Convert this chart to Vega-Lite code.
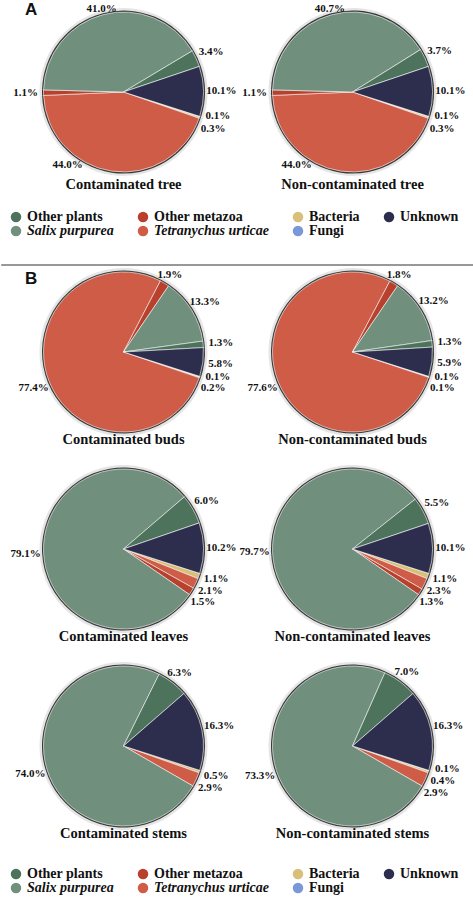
{
  "$schema": "https://vega.github.io/schema/vega-lite/v6.json",
  "padding": 0,
  "background": "white",
  "config": {
    "view": {"stroke": null},
    "font": "Liberation Serif",
    "legend": {"labelFont": "Liberation Serif", "labelFontWeight": "bold", "labelFontSize": 14}
  },
  "datasets": {
    "pies": [
      {"section": "A", "sample": "Contaminated tree", "category": "Fungi", "value": 0.1},
      {"section": "A", "sample": "Contaminated tree", "category": "Bacteria", "value": 0.3},
      {"section": "A", "sample": "Contaminated tree", "category": "Tetranychus urticae", "value": 44.0},
      {"section": "A", "sample": "Contaminated tree", "category": "Other metazoa", "value": 1.1},
      {"section": "A", "sample": "Contaminated tree", "category": "Salix purpurea", "value": 41.0},
      {"section": "A", "sample": "Contaminated tree", "category": "Other plants", "value": 3.4},
      {"section": "A", "sample": "Contaminated tree", "category": "Unknown", "value": 10.1},
      {"section": "A", "sample": "Non-contaminated tree", "category": "Fungi", "value": 0.1},
      {"section": "A", "sample": "Non-contaminated tree", "category": "Bacteria", "value": 0.3},
      {"section": "A", "sample": "Non-contaminated tree", "category": "Tetranychus urticae", "value": 44.0},
      {"section": "A", "sample": "Non-contaminated tree", "category": "Other metazoa", "value": 1.1},
      {"section": "A", "sample": "Non-contaminated tree", "category": "Salix purpurea", "value": 40.7},
      {"section": "A", "sample": "Non-contaminated tree", "category": "Other plants", "value": 3.7},
      {"section": "A", "sample": "Non-contaminated tree", "category": "Unknown", "value": 10.1},
      {"section": "B", "sample": "Contaminated buds", "category": "Fungi", "value": 0.1},
      {"section": "B", "sample": "Contaminated buds", "category": "Bacteria", "value": 0.2},
      {"section": "B", "sample": "Contaminated buds", "category": "Tetranychus urticae", "value": 77.4},
      {"section": "B", "sample": "Contaminated buds", "category": "Other metazoa", "value": 1.9},
      {"section": "B", "sample": "Contaminated buds", "category": "Salix purpurea", "value": 13.3},
      {"section": "B", "sample": "Contaminated buds", "category": "Other plants", "value": 1.3},
      {"section": "B", "sample": "Contaminated buds", "category": "Unknown", "value": 5.8},
      {"section": "B", "sample": "Non-contaminated buds", "category": "Fungi", "value": 0.1},
      {"section": "B", "sample": "Non-contaminated buds", "category": "Bacteria", "value": 0.1},
      {"section": "B", "sample": "Non-contaminated buds", "category": "Tetranychus urticae", "value": 77.6},
      {"section": "B", "sample": "Non-contaminated buds", "category": "Other metazoa", "value": 1.8},
      {"section": "B", "sample": "Non-contaminated buds", "category": "Salix purpurea", "value": 13.2},
      {"section": "B", "sample": "Non-contaminated buds", "category": "Other plants", "value": 1.3},
      {"section": "B", "sample": "Non-contaminated buds", "category": "Unknown", "value": 5.9},
      {"section": "B", "sample": "Contaminated leaves", "category": "Bacteria", "value": 1.1},
      {"section": "B", "sample": "Contaminated leaves", "category": "Tetranychus urticae", "value": 2.1},
      {"section": "B", "sample": "Contaminated leaves", "category": "Other metazoa", "value": 1.5},
      {"section": "B", "sample": "Contaminated leaves", "category": "Salix purpurea", "value": 79.1},
      {"section": "B", "sample": "Contaminated leaves", "category": "Other plants", "value": 6.0},
      {"section": "B", "sample": "Contaminated leaves", "category": "Unknown", "value": 10.2},
      {"section": "B", "sample": "Non-contaminated leaves", "category": "Bacteria", "value": 1.1},
      {"section": "B", "sample": "Non-contaminated leaves", "category": "Tetranychus urticae", "value": 2.3},
      {"section": "B", "sample": "Non-contaminated leaves", "category": "Other metazoa", "value": 1.3},
      {"section": "B", "sample": "Non-contaminated leaves", "category": "Salix purpurea", "value": 79.7},
      {"section": "B", "sample": "Non-contaminated leaves", "category": "Other plants", "value": 5.5},
      {"section": "B", "sample": "Non-contaminated leaves", "category": "Unknown", "value": 10.1},
      {"section": "B", "sample": "Contaminated stems", "category": "Bacteria", "value": 0.5},
      {"section": "B", "sample": "Contaminated stems", "category": "Tetranychus urticae", "value": 2.9},
      {"section": "B", "sample": "Contaminated stems", "category": "Salix purpurea", "value": 74.0},
      {"section": "B", "sample": "Contaminated stems", "category": "Other plants", "value": 6.3},
      {"section": "B", "sample": "Contaminated stems", "category": "Unknown", "value": 16.3},
      {"section": "B", "sample": "Non-contaminated stems", "category": "Fungi", "value": 0.1},
      {"section": "B", "sample": "Non-contaminated stems", "category": "Bacteria", "value": 0.4},
      {"section": "B", "sample": "Non-contaminated stems", "category": "Tetranychus urticae", "value": 2.9},
      {"section": "B", "sample": "Non-contaminated stems", "category": "Salix purpurea", "value": 73.3},
      {"section": "B", "sample": "Non-contaminated stems", "category": "Other plants", "value": 7.0},
      {"section": "B", "sample": "Non-contaminated stems", "category": "Unknown", "value": 16.3}
    ]
  },
  "resolve": {"scale": {"color": "independent"}, "legend": {"color": "independent"}},
  "spacing": 0,
  "center": true,
  "vconcat": [
    {
      "data": {"name": "pies"},
      "title": {"text": "A", "anchor": "start", "frame": "group", "font": "Liberation Sans", "fontSize": 17, "fontWeight": "bold", "color": "#111111", "offset": -16, "dx": 16},
      "transform": [
        {"filter": "datum.section === 'A'"},
        {"calculate": "indexof(['Fungi','Bacteria','Tetranychus urticae','Other metazoa','Salix purpurea','Other plants','Unknown'], datum.category)", "as": "rank"},
        {"window": [{"op": "sum", "field": "value", "as": "cum"}], "sort": [{"field": "rank"}], "groupby": ["sample"], "frame": [null, 0]},
        {"calculate": "datum.cum - datum.value / 2", "as": "mid"},
        {"joinaggregate": [{"op": "min", "field": "mid", "as": "firstMid"}, {"op": "max", "field": "mid", "as": "lastMid"}], "groupby": ["sample"]},
        {"window": [{"op": "lag", "field": "mid", "param": 1, "as": "m1"}, {"op": "lag", "field": "mid", "param": 2, "as": "m2"}, {"op": "lead", "field": "mid", "param": 1, "as": "p1"}, {"op": "lead", "field": "mid", "param": 2, "as": "p2"}], "sort": [{"field": "rank"}], "groupby": ["sample"], "frame": [null, null]},
        {"calculate": "max(datum.mid, (datum.m1 != null ? datum.m1 : datum.lastMid - 100) + 2.2, datum.m2 != null ? datum.m2 + 4.4 : -99)", "as": "fw"},
        {"calculate": "min(datum.mid, (datum.p1 != null ? datum.p1 : datum.firstMid + 100) - 2.2, datum.p2 != null ? datum.p2 - 4.4 : 999)", "as": "bw"},
        {"calculate": "(datum.fw + datum.bw) / 2", "as": "lab0"},
        {"joinaggregate": [{"op": "min", "field": "lab0", "as": "firstL"}, {"op": "max", "field": "lab0", "as": "lastL"}], "groupby": ["sample"]},
        {"window": [{"op": "lag", "field": "lab0", "param": 1, "as": "l1"}, {"op": "lag", "field": "lab0", "param": 2, "as": "l2"}, {"op": "lead", "field": "lab0", "param": 1, "as": "n1"}, {"op": "lead", "field": "lab0", "param": 2, "as": "n2"}], "sort": [{"field": "rank"}], "groupby": ["sample"], "frame": [null, null]},
        {"calculate": "max(datum.lab0, (datum.l1 != null ? datum.l1 : datum.lastL - 100) + 2.2, datum.l2 != null ? datum.l2 + 4.4 : -99)", "as": "fw2"},
        {"calculate": "min(datum.lab0, (datum.n1 != null ? datum.n1 : datum.firstL + 100) - 2.2, datum.n2 != null ? datum.n2 - 4.4 : 999)", "as": "bw2"},
        {"calculate": "(datum.fw2 + datum.bw2) / 2", "as": "lab1"},
        {"calculate": "datum.lab1 > 11.75 && datum.lab1 < 28.4 ? 30.5 : datum.lab1", "as": "lab"},
        {"calculate": "82 + 16 * abs(sin(1.88 + datum.lab * 0.0628319))", "as": "labr"},
        {"calculate": "format(datum.value, '.1f') + '%'", "as": "pct"}
      ],
      "facet": {"field": "sample", "type": "nominal", "sort": ["Contaminated tree", "Non-contaminated tree"],
        "header": {"title": null, "labelOrient": "bottom", "labelFont": "Liberation Serif", "labelFontSize": 14.5, "labelFontWeight": "bold", "labelColor": "#111111", "labelPadding": 0}},
      "columns": 2,
      "spacing": {"row": 0, "column": 0},
      "spec": {
        "width": 229,
        "height": 172,
        "layer": [
          {"mark": {"type": "arc", "outerRadius": 84, "fill": "#d4d4d4", "opacity": 0.6},
           "encoding": {"theta": {"field": "value", "type": "quantitative", "stack": true, "scale": {"domain": [0, 100], "range": [1.88, 8.1632]}}}},
          {"mark": {"type": "arc", "outerRadius": 81.5, "fill": "#3a3a3a"},
           "encoding": {"theta": {"field": "value", "type": "quantitative", "stack": true, "scale": {"domain": [0, 100], "range": [1.88, 8.1632]}}}},
          {"mark": {"type": "arc", "outerRadius": 80, "stroke": "#ffffff", "strokeWidth": 0.6},
           "encoding": {
             "theta": {"field": "value", "type": "quantitative", "stack": true, "scale": {"domain": [0, 100], "range": [1.88, 8.1632]}},
             "order": {"field": "rank", "type": "quantitative"},
             "color": {"field": "category", "type": "nominal",
               "scale": {"domain": ["Other plants", "Salix purpurea", "Other metazoa", "Tetranychus urticae", "Bacteria", "Fungi", "Unknown"],
                         "range": ["#4d735c", "#708f7d", "#b8402c", "#cf5c47", "#d8c07a", "#7a98d8", "#2d2e4e"]},
               "legend": {"title": null, "orient": "bottom", "direction": "horizontal", "columns": 4, "offset": 18,
                 "values": ["Other plants", "Other metazoa", "Bacteria", "Unknown", "Salix purpurea", "Tetranychus urticae", "Fungi"],
                 "symbolType": "circle", "symbolSize": 110, "symbolStrokeWidth": 0, "labelFont": "Liberation Serif", "labelFontSize": 14, "labelFontWeight": "bold", "labelColor": "#111111", "labelOffset": 4, "columnPadding": 22, "rowPadding": -3, "labelLimit": 200,
                 "labelFontStyle": {"expr": "datum.label === 'Salix purpurea' || datum.label === 'Tetranychus urticae' ? 'italic' : 'normal'"}}
             }
           }},
          {"mark": {"type": "text", "font": "Liberation Serif", "fontWeight": "bold", "fontSize": 11, "color": "#111111"},
           "encoding": {
             "theta": {"field": "lab", "type": "quantitative", "stack": null, "scale": {"domain": [0, 100], "range": [1.88, 8.1632]}},
             "radius": {"field": "labr", "type": "quantitative", "scale": {"type": "linear", "domain": [0, 100], "range": [0, 100], "zero": true}},
             "text": {"field": "pct", "type": "nominal"}
           }}
        ]
      }
    },
    {
      "width": 473,
      "height": 27,
      "data": {"values": [{}]},
      "mark": {"type": "rule", "color": "#333333", "strokeWidth": 1.2},
      "encoding": {"y": {"datum": 0, "type": "quantitative", "scale": {"domain": [0, 1]}, "axis": null}}
    },
    {
      "data": {"name": "pies"},
      "title": {"text": "B", "anchor": "start", "frame": "group", "font": "Liberation Sans", "fontSize": 17, "fontWeight": "bold", "color": "#111111", "offset": -22, "dx": 16},
      "transform": [
        {"filter": "datum.section === 'B'"},
        {"calculate": "indexof(['Fungi','Bacteria','Tetranychus urticae','Other metazoa','Salix purpurea','Other plants','Unknown'], datum.category)", "as": "rank"},
        {"window": [{"op": "sum", "field": "value", "as": "cum"}], "sort": [{"field": "rank"}], "groupby": ["sample"], "frame": [null, 0]},
        {"calculate": "datum.cum - datum.value / 2", "as": "mid"},
        {"joinaggregate": [{"op": "min", "field": "mid", "as": "firstMid"}, {"op": "max", "field": "mid", "as": "lastMid"}], "groupby": ["sample"]},
        {"window": [{"op": "lag", "field": "mid", "param": 1, "as": "m1"}, {"op": "lag", "field": "mid", "param": 2, "as": "m2"}, {"op": "lead", "field": "mid", "param": 1, "as": "p1"}, {"op": "lead", "field": "mid", "param": 2, "as": "p2"}], "sort": [{"field": "rank"}], "groupby": ["sample"], "frame": [null, null]},
        {"calculate": "max(datum.mid, (datum.m1 != null ? datum.m1 : datum.lastMid - 100) + 2.2, datum.m2 != null ? datum.m2 + 4.4 : -99)", "as": "fw"},
        {"calculate": "min(datum.mid, (datum.p1 != null ? datum.p1 : datum.firstMid + 100) - 2.2, datum.p2 != null ? datum.p2 - 4.4 : 999)", "as": "bw"},
        {"calculate": "(datum.fw + datum.bw) / 2", "as": "lab0"},
        {"joinaggregate": [{"op": "min", "field": "lab0", "as": "firstL"}, {"op": "max", "field": "lab0", "as": "lastL"}], "groupby": ["sample"]},
        {"window": [{"op": "lag", "field": "lab0", "param": 1, "as": "l1"}, {"op": "lag", "field": "lab0", "param": 2, "as": "l2"}, {"op": "lead", "field": "lab0", "param": 1, "as": "n1"}, {"op": "lead", "field": "lab0", "param": 2, "as": "n2"}], "sort": [{"field": "rank"}], "groupby": ["sample"], "frame": [null, null]},
        {"calculate": "max(datum.lab0, (datum.l1 != null ? datum.l1 : datum.lastL - 100) + 2.2, datum.l2 != null ? datum.l2 + 4.4 : -99)", "as": "fw2"},
        {"calculate": "min(datum.lab0, (datum.n1 != null ? datum.n1 : datum.firstL + 100) - 2.2, datum.n2 != null ? datum.n2 - 4.4 : 999)", "as": "bw2"},
        {"calculate": "(datum.fw2 + datum.bw2) / 2", "as": "lab1"},
        {"calculate": "datum.lab1 > 11.75 && datum.lab1 < 28.4 ? 30.5 : datum.lab1", "as": "lab"},
        {"calculate": "82 + 16 * abs(sin(1.88 + datum.lab * 0.0628319))", "as": "labr"},
        {"calculate": "format(datum.value, '.1f') + '%'", "as": "pct"}
      ],
      "facet": {"field": "sample", "type": "nominal", "sort": ["Contaminated buds", "Non-contaminated buds", "Contaminated leaves", "Non-contaminated leaves", "Contaminated stems", "Non-contaminated stems"],
        "header": {"title": null, "labelOrient": "bottom", "labelFont": "Liberation Serif", "labelFontSize": 14.5, "labelFontWeight": "bold", "labelColor": "#111111", "labelPadding": -5}},
      "columns": 2,
      "spacing": {"row": 16, "column": 0},
      "spec": {
        "width": 229,
        "height": 172,
        "layer": [
          {"mark": {"type": "arc", "outerRadius": 84, "fill": "#d4d4d4", "opacity": 0.6},
           "encoding": {"theta": {"field": "value", "type": "quantitative", "stack": true, "scale": {"domain": [0, 100], "range": [1.88, 8.1632]}}}},
          {"mark": {"type": "arc", "outerRadius": 81.5, "fill": "#3a3a3a"},
           "encoding": {"theta": {"field": "value", "type": "quantitative", "stack": true, "scale": {"domain": [0, 100], "range": [1.88, 8.1632]}}}},
          {"mark": {"type": "arc", "outerRadius": 80, "stroke": "#ffffff", "strokeWidth": 0.6},
           "encoding": {
             "theta": {"field": "value", "type": "quantitative", "stack": true, "scale": {"domain": [0, 100], "range": [1.88, 8.1632]}},
             "order": {"field": "rank", "type": "quantitative"},
             "color": {"field": "category", "type": "nominal",
               "scale": {"domain": ["Other plants", "Salix purpurea", "Other metazoa", "Tetranychus urticae", "Bacteria", "Fungi", "Unknown"],
                         "range": ["#4d735c", "#708f7d", "#b8402c", "#cf5c47", "#d8c07a", "#7a98d8", "#2d2e4e"]},
               "legend": {"title": null, "orient": "bottom", "direction": "horizontal", "columns": 4, "offset": 26,
                 "values": ["Other plants", "Other metazoa", "Bacteria", "Unknown", "Salix purpurea", "Tetranychus urticae", "Fungi"],
                 "symbolType": "circle", "symbolSize": 110, "symbolStrokeWidth": 0, "labelFont": "Liberation Serif", "labelFontSize": 14, "labelFontWeight": "bold", "labelColor": "#111111", "labelOffset": 4, "columnPadding": 22, "rowPadding": -3, "labelLimit": 200,
                 "labelFontStyle": {"expr": "datum.label === 'Salix purpurea' || datum.label === 'Tetranychus urticae' ? 'italic' : 'normal'"}}
             }
           }},
          {"mark": {"type": "text", "font": "Liberation Serif", "fontWeight": "bold", "fontSize": 11, "color": "#111111"},
           "encoding": {
             "theta": {"field": "lab", "type": "quantitative", "stack": null, "scale": {"domain": [0, 100], "range": [1.88, 8.1632]}},
             "radius": {"field": "labr", "type": "quantitative", "scale": {"type": "linear", "domain": [0, 100], "range": [0, 100], "zero": true}},
             "text": {"field": "pct", "type": "nominal"}
           }}
        ]
      }
    }
  ]
}
